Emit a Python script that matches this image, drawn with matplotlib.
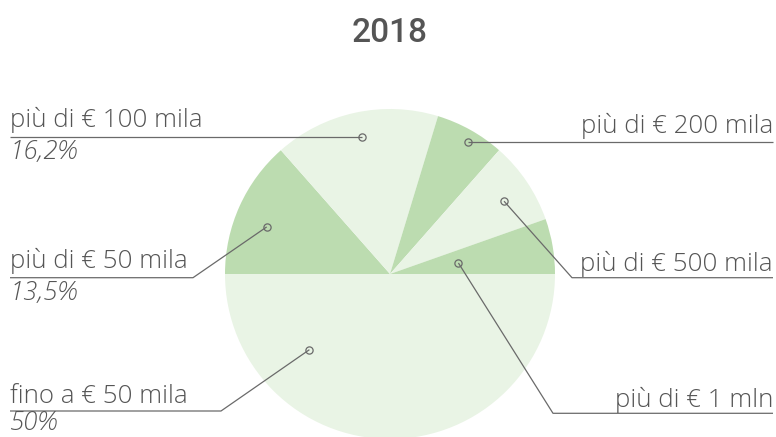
import matplotlib
matplotlib.use("Agg")
import matplotlib.pyplot as plt
import numpy as np

# Income bands, in drawing order (clockwise from 9 o'clock)
categories = ["più di € 50 mila", "più di € 100 mila", "più di € 200 mila",
              "più di € 500 mila", "più di € 1 mln", "fino a € 50 mila"]
shares = [13.5, 16.2, 6.8, 8.1, 5.4, 50.0]
pct_labels = ["13,5%", "16,2%", None, None, None, "50%"]
title = "2018"

DARK = "#bcdcb0"
LIGHT = "#e9f4e5"
TXT = "#555555"
LINE = "#6a6a6a"
colors = [DARK, LIGHT, DARK, LIGHT, DARK, LIGHT]

W, H = 776, 437
fig = plt.figure(figsize=(W / 100, H / 100), dpi=100)
ax = fig.add_axes([0, 0, 1, 1])

cx, cy, R = 390, H - 274, 165
wedges, _ = ax.pie(shares, colors=colors, startangle=180, counterclock=False,
                   center=(cx, cy), radius=R, frame=True,
                   wedgeprops=dict(linewidth=0))
ax.set_xlim(0, W)
ax.set_ylim(0, H)
ax.set_aspect("auto")
ax.axis("off")

# Anchor point inside each wedge: fraction along the arc and radial fraction
anchor_frac = [0.57, 0.49, 0.44, 0.45, 0.47, 0.24]
anchor_rad = [0.80, 0.85, 0.93, 0.82, 0.42, 0.67]

FONT = ["Open Sans", "DejaVu Sans"]
WEIGHT = "light"

# size the label font so that the longest label spans ~192 px
renderer = fig.canvas.get_renderer()
probe = ax.text(0, 0, "più di € 100 mila", fontsize=10, family=FONT,
                fontweight=WEIGHT)
w10 = probe.get_window_extent(renderer).width
probe.remove()
fs = 10 * 192 / w10


def anchor(i):
    w = wedges[i]
    t = np.deg2rad(w.theta1 + (w.theta2 - w.theta1) * anchor_frac[i])
    r = R * anchor_rad[i]
    return cx + r * np.cos(t), cy + r * np.sin(t)


def Y(y):
    return H - y


# label layout: side, text baseline y, underline y, elbow x
layout = {
    0: ("L", 268, 277.7, 193),
    1: ("L", 127, 136.7, None),
    2: ("R", 132.7, 141.7, None),
    3: ("R", 271, 277.7, 572),
    4: ("R", 406.7, 413.3, 553),
    5: ("L", 402.7, 411, 221),
}

for i, (side, ty, ly, ex) in layout.items():
    px, py = anchor(i)
    end = 10 if side == "L" else 773
    if ex is None:
        ax.plot([px, end], [Y(ly), Y(ly)], color=LINE, lw=0.9,
                solid_capstyle="butt")
    else:
        ax.plot([px, ex, end], [py, Y(ly), Y(ly)], color=LINE, lw=0.9,
                solid_capstyle="butt")
    ax.plot([px], [py], marker="o", ms=5.2, mfc="none", mec=LINE, mew=0.9)
    if side == "L":
        ax.text(10, Y(ty), categories[i], ha="left", va="baseline",
                fontsize=fs, color=TXT, family=FONT, fontweight=WEIGHT)
        if pct_labels[i]:
            # keep the percentage inside the canvas
            by = min(ly + 22, H - 6.5)
            ax.text(10, Y(by), pct_labels[i], ha="left", va="baseline",
                    fontsize=fs, color=TXT, family=FONT, fontweight=WEIGHT,
                    style="italic")
    else:
        ax.text(773, Y(ty), categories[i], ha="right", va="baseline",
                fontsize=fs, color=TXT, family=FONT, fontweight=WEIGHT)

ax.text(cx, Y(41.7), title, ha="center", va="baseline", fontsize=24,
        color=TXT, family=["Roboto", "DejaVu Sans"], fontweight="medium")

fig.savefig("out.png", dpi=100)
